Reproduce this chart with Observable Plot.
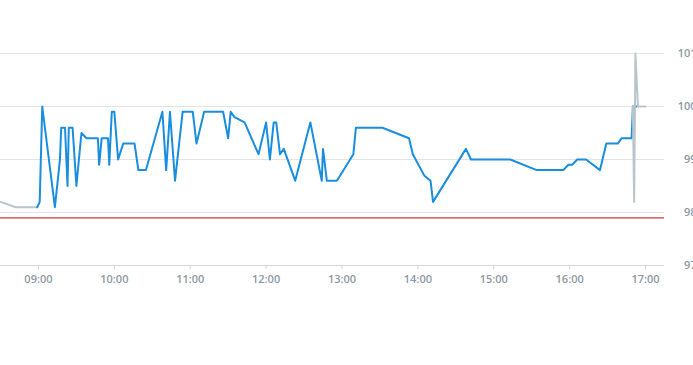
<!DOCTYPE html>
<html>
<head>
<meta charset="utf-8">
<script src="https://cdn.jsdelivr.net/npm/d3@7"></script>
<script src="https://cdn.jsdelivr.net/npm/@observablehq/plot@0.6"></script>
<style>
  html, body { margin: 0; padding: 0; background: #fff; overflow: hidden; }
</style>
</head>
<body>
<div id="chart"></div>
<script>
// Pre-market (grey)
const preTimes  = ["08:30", "08:42", "08:59"];
const preValues = [98.2, 98.1, 98.1];

// Trading session (blue)
const times = [
  "08:59","09:01","09:03","09:13","09:17","09:18","09:21","09:23","09:24","09:27",
  "09:30","09:34","09:38","09:47","09:48","09:50","09:55","09:56","09:58","10:00",
  "10:03","10:07","10:16","10:19","10:25","10:38","10:41","10:44","10:48","10:54",
  "11:02","11:05","11:11","11:26","11:30","11:32","11:35","11:43","11:54","12:00",
  "12:03","12:06","12:08","12:11","12:14","12:23","12:35","12:44","12:45","12:48",
  "12:56","13:09","13:11","13:32","13:53","13:56","14:05","14:10","14:12","14:38",
  "14:42","15:13","15:34","15:55","15:59","16:02","16:06","16:13","16:24","16:29",
  "16:38","16:41","16:49","16:50","16:53"
];
const values = [
  98.1, 98.2, 100.0, 98.1, 99.0, 99.6, 99.6, 98.5, 99.6, 99.6,
  98.5, 99.5, 99.4, 99.4, 98.9, 99.4, 99.4, 98.9, 99.9, 99.9,
  99.0, 99.3, 99.3, 98.8, 98.8, 99.9, 98.8, 99.9, 98.6, 99.9,
  99.9, 99.3, 99.9, 99.9, 99.4, 99.9, 99.8, 99.7, 99.1, 99.7,
  99.0, 99.7, 99.7, 99.1, 99.2, 98.6, 99.7, 98.6, 99.2, 98.6,
  98.6, 99.1, 99.6, 99.6, 99.4, 99.1, 98.7, 98.6, 98.2, 99.2,
  99.0, 99.0, 98.8, 98.8, 98.9, 98.9, 99.0, 99.0, 98.8, 99.3,
  99.3, 99.4, 99.4, 100.0, 100.0
];

// After-hours (grey)
const postTimes  = ["16:50", "16:51", "16:52", "16:54", "17:00"];
const postValues = [100.0, 98.2, 101.0, 100.0, 100.0];

// Previous close (red reference line)
const prevClose = 97.9;

// Axes
const yTicks = [97, 98, 99, 100, 101];
const xTickLabels = ["09:00","10:00","11:00","12:00","13:00","14:00","15:00","16:00","17:00"];
const xDomainLabels = ["08:30", "17:15"];

const toDate = s => {
  const [h, m] = s.split(":").map(Number);
  return new Date(Date.UTC(2024, 0, 2, h, m));
};
const series = (ts, vs) => ts.map((t, i) => ({t: toDate(t), v: vs[i]}));

const pre = series(preTimes, preValues);
const main = series(times, values);
const post = series(postTimes, postValues);

const labelColor = "#8e98a4";

const chart = Plot.plot({
  width: 693,
  height: 365,
  marginTop: 53,
  marginBottom: 100,
  marginLeft: 0,
  marginRight: 29,
  style: {fontFamily: "'Open Sans', sans-serif", fontSize: "11px", fontWeight: 600, background: "#fff"},
  x: {type: "utc", domain: xDomainLabels.map(toDate)},
  y: {domain: [97, 101]},
  marks: [
    Plot.ruleY(yTicks.slice(1), {stroke: "#e4e4e4", strokeWidth: 1}),
    Plot.axisY({
      ticks: yTicks, anchor: "right", tickSize: 0, tickPadding: 32,
      textAnchor: "end", tickFormat: d => String(d), fill: labelColor, label: null
    }),
    Plot.axisX({
      ticks: xTickLabels.map(toDate), tickSize: 4, tickPadding: 6,
      tickFormat: d3.utcFormat("%H:%M"), stroke: "#cfd4dc", fill: labelColor, label: null
    }),
    Plot.ruleY([yTicks[0]], {stroke: "#d2d6dd", strokeWidth: 1}),
    Plot.ruleY([prevClose], {stroke: "#d0393a", strokeWidth: 1.2}),
    Plot.lineY(pre, {x: "t", y: "v", stroke: "#b9c5cd", strokeWidth: 2}),
    Plot.lineY(main, {x: "t", y: "v", stroke: "#1a8ede", strokeWidth: 2}),
    Plot.lineY(post, {x: "t", y: "v", stroke: "#b9c5cd", strokeWidth: 2})
  ]
});

document.getElementById("chart").appendChild(chart);
</script>
</body>
</html>
